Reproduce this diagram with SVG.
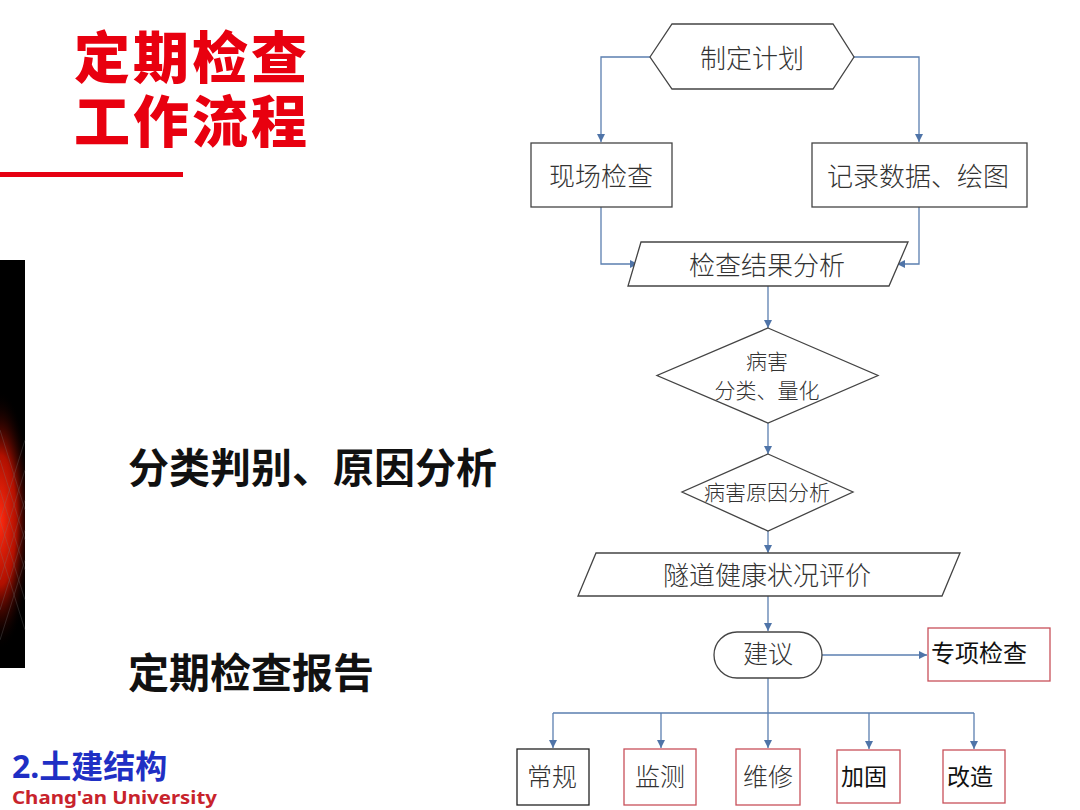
<svg xmlns="http://www.w3.org/2000/svg" width="1080" height="810" viewBox="0 0 1080 810">
<style>
.title{font-family:"Liberation Sans","Noto Sans CJK SC",sans-serif;font-weight:900;fill:#e8000f;font-size:56px;letter-spacing:3px}
.big{font-family:"Noto Sans CJK SC","Noto Sans",sans-serif;font-weight:700;fill:#111;font-size:41px;dominant-baseline:central}
.lbl{font-family:"Noto Sans CJK SC","Noto Sans",sans-serif;font-weight:300;fill:#333;dominant-baseline:central;text-anchor:middle}
.shape{fill:#fff;stroke:#444;stroke-width:1.3}
.rbox{fill:#fff;stroke:#c8505a;stroke-width:1.3}
.conn{fill:none;stroke:#5b7fb0;stroke-width:1.3}
</style>
<defs>
<marker id="arr" viewBox="0 0 10 10" refX="10" refY="5" markerWidth="8" markerHeight="8" markerUnits="userSpaceOnUse" orient="auto">
<path d="M0,0 L10,5 L0,10 Z" fill="#4f74a8"/>
</marker>
<radialGradient id="glow" cx="0" cy="520" r="130" gradientUnits="userSpaceOnUse" gradientTransform="translate(0,520) scale(0.25,1) translate(0,-520)">
<stop offset="0" stop-color="#ff2a10"/>
<stop offset="0.5" stop-color="#b01000"/>
<stop offset="1" stop-color="#000" stop-opacity="0"/>
</radialGradient>
</defs>
<rect width="1080" height="810" fill="#fff"/>

<g id="title">
<text class="title"><tspan x="74" y="78">定期检查</tspan><tspan x="74" y="142">工作流程</tspan></text>
<rect x="0" y="172" width="183" height="5" fill="#e60012"/>
</g>

<g id="sidebar">
<rect x="0" y="260" width="25" height="408" fill="#000"/>
<rect x="0" y="380" width="25" height="280" fill="url(#glow)"/>
<g stroke="#777" stroke-width="0.6" opacity="0.5" fill="none">
<path d="M0,430 L25,510 M0,460 L25,540 M0,490 L25,570 M0,520 L25,600 M0,550 L25,630"/>
<path d="M0,640 L25,560 M0,610 L25,530 M0,580 L25,500 M0,550 L25,470 M0,520 L25,440"/>
</g>
</g>

<g id="left-text">
<text class="big" x="128" y="465">分类判别、原因分析</text>
<text class="big" x="128" y="670">定期检查报告</text>
</g>

<g id="logo">
<text font-family="'Noto Sans','Noto Sans CJK SC',sans-serif" font-weight="700"><tspan x="12" y="778" font-size="32" fill="#1f2fc4">2.土建结构</tspan><tspan x="12" y="804" font-size="18" fill="#c8232c" textLength="205" lengthAdjust="spacingAndGlyphs">Chang'an University</tspan></text>
</g>

<g id="connectors">
<path class="conn" d="M650,57 H601 V142" marker-end="url(#arr)"/>
<path class="conn" d="M854,57 H919 V142" marker-end="url(#arr)"/>
<path class="conn" d="M601,207 V264 H638" marker-end="url(#arr)"/>
<path class="conn" d="M919,207 V264 H897" marker-end="url(#arr)"/>
<path class="conn" d="M768,286 V328" marker-end="url(#arr)"/>
<path class="conn" d="M768,423 V454" marker-end="url(#arr)"/>
<path class="conn" d="M768,531 V553" marker-end="url(#arr)"/>
<path class="conn" d="M768,596 V631" marker-end="url(#arr)"/>
<path class="conn" d="M822,655 H927" marker-end="url(#arr)"/>
<path class="conn" d="M768,678 V713 M553,713 H974"/>
<path class="conn" d="M553,713 V748" marker-end="url(#arr)"/>
<path class="conn" d="M661,713 V748" marker-end="url(#arr)"/>
<path class="conn" d="M768,713 V748" marker-end="url(#arr)"/>
<path class="conn" d="M869,713 V749" marker-end="url(#arr)"/>
<path class="conn" d="M974,713 V749" marker-end="url(#arr)"/>
</g>

<g id="n-plan">
<polygon class="shape" points="650,57 672,24 833,24 854,57 833,89 672,89"/>
<text class="lbl" x="752" y="56" font-size="26">制定计划</text>
</g>
<g id="n-site">
<rect class="shape" x="531" y="143" width="141" height="64"/>
<text class="lbl" x="601" y="174" font-size="26">现场检查</text>
</g>
<g id="n-record">
<rect class="shape" x="812" y="143" width="215" height="64"/>
<text class="lbl" x="918" y="174" font-size="26">记录数据、绘图</text>
</g>
<g id="n-result">
<polygon class="shape" points="641,242 908,242 889,286 628,286"/>
<text class="lbl" x="767" y="263" font-size="26">检查结果分析</text>
</g>
<g id="n-classify">
<polygon class="shape" points="768,328 878,375.5 768,423 657,375.5"/>
<text class="lbl" x="767" y="360" font-size="21">病害</text>
<text class="lbl" x="767" y="389" font-size="21">分类、量化</text>
</g>
<g id="n-cause">
<polygon class="shape" points="768,454 853,492 768,531 682,492"/>
<text class="lbl" x="767" y="491" font-size="21">病害原因分析</text>
</g>
<g id="n-eval">
<polygon class="shape" points="596,553 960,553 942,596 578,596"/>
<text class="lbl" x="767" y="573" font-size="26">隧道健康状况评价</text>
</g>
<g id="n-advice">
<rect class="shape" x="714" y="632" width="108" height="46" rx="23"/>
<text class="lbl" x="768" y="652" font-size="25">建议</text>
</g>
<g id="n-special">
<rect class="rbox" x="928" y="628" width="122" height="53"/>
<text class="lbl" x="979" y="651" font-size="24" style="fill:#111;font-weight:400">专项检查</text>
</g>
<g id="n-routine">
<rect class="shape" x="517" y="749" width="72" height="56" style="stroke:#222"/>
<text class="lbl" x="552" y="775" font-size="25">常规</text>
</g>
<g id="n-monitor">
<rect class="rbox" x="624" y="749" width="72" height="56"/>
<text class="lbl" x="660" y="775" font-size="25">监测</text>
</g>
<g id="n-repair">
<rect class="rbox" x="736" y="749" width="64" height="56"/>
<text class="lbl" x="768" y="775" font-size="25">维修</text>
</g>
<g id="n-reinforce">
<rect class="rbox" x="837" y="750" width="63" height="53"/>
<text class="lbl" x="864" y="775" font-size="23" style="fill:#111;font-weight:400">加固</text>
</g>
<g id="n-rebuild">
<rect class="rbox" x="943" y="750" width="62" height="53"/>
<text class="lbl" x="970" y="775" font-size="23" style="fill:#111;font-weight:400">改造</text>
</g>
</svg>
